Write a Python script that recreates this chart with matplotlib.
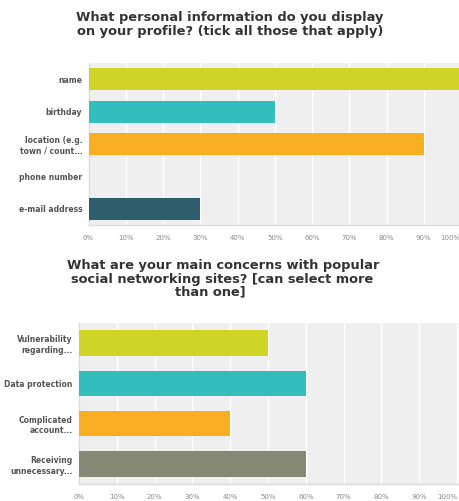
import matplotlib.pyplot as plt
from matplotlib.transforms import ScaledTranslation

plt.rcParams['font.family'] = ['DejaVu Sans']

# survey question 1
q1_labels = ['name', 'birthday', 'location (e.g.\ntown / count...', 'phone number', 'e-mail address']
q1_values = [100, 50, 90, 0, 30]
q1_colors = ['#cfd427', '#33bebe', '#f7ae20', '#f0f0f0', '#2e5d6b']

# survey question 2
q2_labels = ['Vulnerability\nregarding...', 'Data protection', 'Complicated\naccount...', 'Receiving\nunnecessary...']
q2_values = [50, 60, 40, 60]
q2_colors = ['#cfd427', '#33bebe', '#f7ae20', '#878977']

ticks = list(range(0, 101, 10))
tick_labels = [f'{t}%' for t in ticks]

W, H = 459, 501
fig = plt.figure(figsize=(W / 100, H / 100), dpi=100)


def bar_panel(rect, labels, values, colors, xmax, height, shift):
    ax = fig.add_axes(rect)
    ax.set_facecolor('#efefef')
    pos = list(range(len(labels)))
    ax.barh(pos, values, height=height, color=colors, zorder=3)
    ax.set_ylim(len(labels) - 0.5, -0.5)
    ax.set_xlim(0, xmax)
    ax.set_yticks(pos)
    ax.set_yticklabels(labels, fontsize=5.5, fontweight='bold', color='#555555', linespacing=1.25)
    ax.set_xticks(ticks)
    ax.set_xticklabels(tick_labels, fontsize=5, color='#8a8a8a')
    ax.tick_params(length=0, pad=7)
    ax.tick_params(axis='y', pad=4.5)
    ax.grid(axis='x', color='white', linewidth=1, zorder=1)
    for s in ['top', 'right']:
        ax.spines[s].set_visible(False)
    for s in ['left', 'bottom']:
        ax.spines[s].set_color('#dcdcdc')
        ax.spines[s].set_linewidth(1)
    # the last label sits inside the picture edge
    last = ax.get_xticklabels()[-1]
    last.set_transform(last.get_transform() + ScaledTranslation(-shift / 100, 0, fig.dpi_scale_trans))
    return ax


# top chart
bar_panel([88.5 / W, 1 - 225 / H, (461 - 88.5) / W, 162 / H],
          q1_labels, q1_values, q1_colors, 100, 0.68, 11)

# bottom chart
bar_panel([79 / W, 1 - 484 / H, (459 - 79) / W, 161 / H],
          q2_labels, q2_values, q2_colors, 100.5, 0.63, 10)

title_kw = dict(ha='center', va='center', fontsize=9.4, fontweight='bold', color='#333333')
fig.text(230 / W, 1 - 18 / H, 'What personal information do you display', **title_kw)
fig.text(230 / W, 1 - 32 / H, 'on your profile? (tick all those that apply)', **title_kw)

fig.text(223 / W, 1 - 266 / H, 'What are your main concerns with popular', **title_kw)
fig.text(222 / W, 1 - 279 / H, 'social networking sites? [can select more', **title_kw)
fig.text(210 / W, 1 - 292 / H, 'than one]', **title_kw)

fig.savefig('out.png', dpi=100, facecolor='white')
